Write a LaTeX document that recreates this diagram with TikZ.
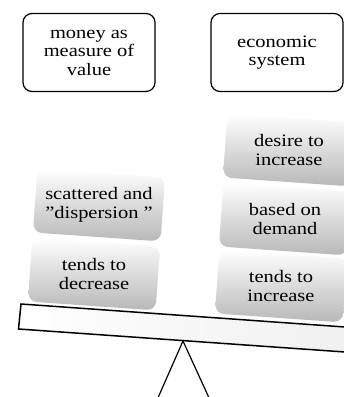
\documentclass[tikz,border=0pt]{standalone}
\usepackage{fontspec}
\setmainfont{Liberation Serif}
\newcommand{\wl}[1]{\scalebox{1.17}[1]{#1}}
\begin{document}
\begin{tikzpicture}[x=1pt,y=-1pt,
  txt/.style={font=\fontsize{17.5}{18.5}\selectfont, align=center, text=black},
  topbox/.style={txt, draw=black, line width=1.2pt, rounded corners=9pt, fill=white,
    minimum width=132pt, minimum height=78pt, inner sep=0pt},
  gradbox/.style={rounded corners=9pt, top color=white, bottom color=black!28,
    minimum width=128pt, minimum height=64pt, inner sep=0pt, rotate=-4},
  plank/.style={draw=black, line width=1.5pt, left color=white, right color=black!6},
  fulcrum/.style={draw=black, line width=1.2pt}]
\useasboundingbox (0,0) rectangle (344,397);
\begin{scope}
\clip (0,0) rectangle (344,397);
% top boxes
\node[topbox] (money) at (89,52.5) {\wl{money as}\\\wl{measure of}\\\wl{value}};
\node[topbox] (econ) at (277,52.5) {\wl{economic}\\\wl{system}};
% plank
\coordinate (p1) at (21,304);
\coordinate (p2) at (352,327.5);
\coordinate (p3) at (352,352.5);
\coordinate (p4) at (18.5,329);
\draw[plank] (p1) -- (p2) -- (p3) -- (p4) -- cycle;
% fulcrum
\coordinate (apex) at (183,341);
\coordinate (fl) at (157,400);
\coordinate (fr) at (210,400);
\draw[fulcrum] (fl) -- (apex) -- (fr);
% left stack
\node[gradbox] (scatbox) at (99,205) {};
\node[txt] (scat) at (scatbox) {\wl{scattered and}\\\wl{\symbol{34}dispersion \symbol{34}}};
\node[gradbox] (decbox) at (94,274) {};
\node[txt] (dec) at (decbox) {\wl{tends to}\\\wl{decrease}};
% right stack
\node[gradbox] (desirebox) at (289,150) {};
\node[txt] (desire) at (desirebox) {\wl{desire to}\\\wl{increase}};
\node[gradbox] (demandbox) at (285,219) {};
\node[txt] (demand) at (demandbox) {\wl{based on}\\\wl{demand}};
\node[gradbox] (incbox) at (281,286) {};
\node[txt] (inc) at (incbox) {\wl{tends to}\\\wl{increase}};
\end{scope}
\end{tikzpicture}
\end{document}
